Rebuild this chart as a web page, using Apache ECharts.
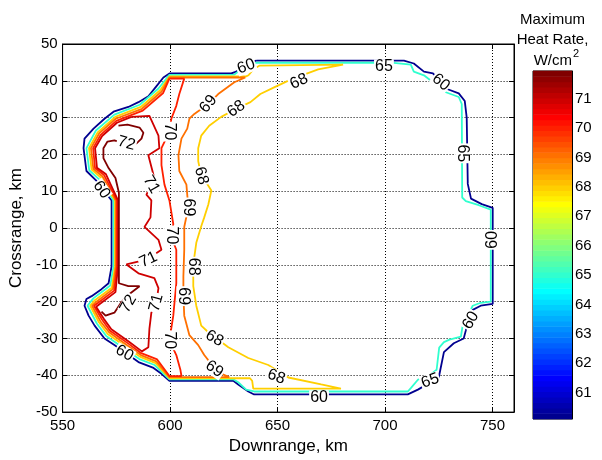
<!DOCTYPE html>
<html><head><meta charset="utf-8">
<script src="https://cdn.jsdelivr.net/npm/echarts@6/dist/echarts.min.js"></script>
<style>html,body{margin:0;padding:0;background:#fff}#c{width:602px;height:460px}</style>
</head><body><div id="c"></div>
<script>
// ---------------- data ----------------
const xTicks = [550, 600, 650, 700, 750];
const yTicks = [-50, -40, -30, -20, -10, 0, 10, 20, 30, 40, 50];
const cbTicks = [61, 62, 63, 64, 65, 66, 67, 68, 69, 70, 71];
const cbMin = 60.1, cbMax = 71.94;
const levels = [60, 65, 68, 69, 70, 71, 72];

const c60 = [[640.1,45.5],[708.8,45.5],[713.4,44.7],[718.1,42.5],[722.3,42.0],[729.2,37.7],[734.3,36.6],[737.1,34.5],[738.0,30.0],[738.5,12.0],[740.0,8.0],[745.0,6.5],[750.1,5.5],[750.1,-20.6],[744.5,-21.1],[739.9,-22.5],[737.6,-27.8],[736.6,-30.0],[732.0,-31.3],[727.4,-33.7],[725.0,-40.6],[715.3,-43.9],[710.6,-45.2],[639.1,-45.2],[636.4,-44.4],[631.7,-42.5],[629.4,-41.5],[599.7,-41.5],[596.0,-39.6],[592.3,-38.0],[585.3,-36.4],[578.8,-33.7],[574.1,-31.8],[569.5,-30.0],[564.9,-26.5],[562.1,-23.8],[560.2,-21.1],[561.1,-19.3],[563.5,-18.5],[568.1,-16.6],[571.4,-15.0],[572.8,-10.4],[572.8,7.5],[565.8,12.8],[561.1,15.5],[559.75,21.7],[560.2,24.3],[564.4,27.0],[569.5,29.7],[573.7,31.6],[580.6,32.9],[585.3,34.2],[589.9,35.8],[593.6,38.5],[596.9,40.9],[599.7,42.0],[628.5,42.0],[630.8,42.5],[635.0,44.5],[640.1,45.5]];

const c65 = [[640.1,44.9],[704.1,44.9],[712.0,44.4],[713.4,42.5],[718.1,41.5],[728.3,36.9],[734.3,35.6],[735.7,33.7],[735.9,8.3],[737.6,7.3],[743.6,6.2],[749.2,5.0],[749.2,-20.0],[744.5,-20.3],[740.8,-21.1],[736.1,-26.5],[735.3,-29.5],[730.0,-30.3],[727.4,-31.0],[725.2,-32.5],[724.0,-38.5],[719.9,-40.4],[715.3,-41.2],[712.0,-43.5],[710.6,-44.4],[639.1,-44.4],[635.4,-43.9],[631.7,-41.9],[629.4,-41.1],[599.7,-41.1],[592.8,-37.2],[585.7,-35.6],[579.3,-33.0],[570.3,-29.3],[566.0,-26.0],[561.6,-21.1],[564.3,-19.1],[572.2,-15.6],[573.7,-10.4],[573.7,7.5],[566.9,13.3],[562.4,15.7],[561.1,21.7],[565.5,26.5],[574.1,30.8],[585.9,33.5],[594.6,37.9],[599.7,41.6],[629.9,41.7],[633.1,43.1],[636.8,44.7],[640.1,44.9]];

const c68 = [[680.5,44.4],[641.5,44.1],[638.7,43.1],[636.5,41.5],[635.4,41.2],[599.7,41.2],[595.5,37.5],[586.4,32.9],[574.5,30.2],[566.3,26.0],[562.3,21.7],[563.5,15.9],[567.8,13.7],[574.4,7.5],[574.4,-10.4],[572.9,-16.2],[565.0,-19.6],[562.8,-21.1],[566.9,-25.6],[571.0,-28.8],[579.8,-32.4],[586.1,-35.0],[593.3,-36.7],[599.7,-40.8],[637.2,-40.8],[638.2,-41.5],[638.7,-43.6],[679.5,-43.6],[670.3,-42.5],[655.0,-40.6],[645.7,-37.2],[636.4,-35.3],[627.1,-32.4],[617.8,-28.3],[614.5,-26.5],[612.2,-21.1],[610.8,-15.8],[610.8,-9.9],[612.2,-4.0],[614.5,0.5],[615.9,2.9],[617.8,6.4],[619.2,10.2],[617.8,11.5],[614.5,14.2],[613.1,18.2],[613.1,21.7],[614.5,25.1],[618.2,27.8],[623.8,30.2],[630.8,32.4],[637.4,34.2],[642.0,36.4],[648.4,38.2],[656.3,40.4],[668.9,43.1],[680.5,44.4]];

const c69 = [[599.7,40.9],[596.1,37.1],[586.9,32.4],[574.7,29.7],[567.0,25.7],[563.2,21.7],[564.3,16.1],[568.6,14.0],[574.8,7.5],[574.8,-10.4],[573.4,-16.6],[565.6,-20.1],[563.7,-21.1],[567.6,-25.3],[571.6,-28.3],[580.2,-31.9],[586.4,-34.5],[593.6,-36.2],[599.7,-40.5],[627.5,-40.5],[624.8,-39.8],[620.6,-38.0],[615.9,-34.5],[613.1,-31.8],[609.0,-29.1],[606.6,-23.8],[606.2,-18.5],[606.2,-13.1],[606.6,-5.9],[606.6,0.3],[608.5,5.6],[607.6,11.8],[604.3,15.5],[603.9,19.8],[605.3,24.3],[608.0,27.0],[609.0,29.7],[611.3,31.0],[617.8,33.7],[622.4,36.4],[629.9,39.6],[635.0,40.9],[599.7,40.9]];

const c70 = [[599.7,40.6],[596.8,36.7],[587.3,31.9],[575.0,29.1],[567.7,25.3],[564.2,21.7],[565.1,16.3],[569.3,14.4],[575.3,7.5],[575.3,-10.4],[574.0,-17.0],[566.1,-20.5],[564.6,-21.1],[568.4,-24.9],[572.1,-27.9],[580.6,-31.4],[586.6,-34.0],[594.0,-35.7],[599.7,-40.2],[605.3,-40.2],[604.8,-38.5],[602.9,-34.5],[599.7,-30.5],[601.5,-23.8],[602.9,-15.0],[602.9,-5.9],[600.6,-2.4],[601.5,1.1],[599.7,7.5],[597.4,11.8],[596.0,17.1],[596.0,21.7],[599.7,26.2],[600.6,29.7],[602.9,33.2],[604.3,36.4],[606.6,40.6],[599.7,40.6]];

const c71 = [[582.0,30.2],[575.3,28.6],[568.4,25.0],[565.1,21.7],[566.0,16.4],[570.1,14.7],[575.8,7.5],[575.8,-10.4],[574.6,-17.4],[566.7,-20.9],[565.6,-21.4],[569.1,-24.6],[572.7,-27.5],[580.9,-30.9],[586.9,-33.5],[589.9,-32.4],[590.4,-27.3],[591.3,-23.0],[593.6,-20.3],[594.6,-16.3],[592.7,-13.6],[585.3,-12.3],[579.7,-9.9],[589.0,-8.6],[596.0,-5.9],[594.6,-3.2],[588.1,0.3],[590.9,2.9],[591.3,7.5],[589.0,9.1],[591.3,11.8],[592.3,14.4],[589.9,19.8],[595.0,21.7],[594.6,25.1],[590.4,30.5],[582.0,30.2]];

const c72 = [[576.0,27.8],[580.2,28.1],[585.8,27.3],[587.6,25.9],[586.7,24.3],[584.4,23.0],[579.7,22.7],[574.1,23.8],[570.9,23.5],[569.0,21.7],[569.0,19.0],[571.4,16.3],[574.6,13.6],[576.2,9.6],[576.2,-15.0],[580.6,-15.8],[585.8,-15.8],[581.1,-17.9],[577.4,-20.1],[574.1,-23.0],[570.0,-23.8],[568.1,-22.7]];

const contourLines = [c60, c65, c68, c69, c70, c71, c72];

// contour labels: [x, y, text]
const labels = [
  [635.4,43.9,'60'],[699.5,43.9,'65'],[726.0,39.6,'60'],[735.9,20.3,'65'],
  [750.1,-3.2,'60'],[739.9,-25.1,'60'],[721.0,-41.5,'65'],[669.3,-46.0,'60'],
  [649.4,-40.4,'68'],[620.6,-38.3,'69'],[620.6,-30.0,'68'],[578.8,-34.0,'60'],
  [599.7,-30.5,'70'],[606.2,-18.5,'69'],[610.8,-10.5,'68'],[600.6,-2.0,'70'],
  [589.9,-8.6,'71'],[580.6,-20.6,'72'],[593.6,-20.3,'71'],[608.5,5.6,'69'],
  [614.5,14.2,'68'],[591.3,11.8,'71'],[599.7,26.2,'70'],[579.7,23.0,'72'],
  [617.8,33.7,'69'],[630.8,32.4,'68'],[660.0,39.8,'68'],[568.1,10.4,'60']
];
const labelAngles = [20,0,-40,-90, 90,60,20,0, -20,-35,-30,-30, -90,-90,-90,-90, 25,60,75,-90, -75,-60,-90,-15, 50,35,25,-55];

// ---------------- styling / build ----------------
const FONT = '"Liberation Sans", Arial, Helvetica, sans-serif';
function jetRow(k){
  let r,g,b;
  if(k<=8){r=0;g=0;b=(k+8)/16;}
  else if(k<=24){r=0;g=(k-8)/16;b=1;}
  else if(k<=40){r=(k-24)/16;g=1;b=1-(k-24)/16;}
  else if(k<=56){r=1;g=1-(k-40)/16;b=0;}
  else {r=1-(k-56)/16;g=0;b=0;}
  return 'rgb('+Math.round(r*255)+','+Math.round(g*255)+','+Math.round(b*255)+')';
}
function levelColor(v){
  let k = Math.floor((v-cbMin)/(cbMax-cbMin)*64)+1;
  k = Math.max(1, Math.min(64, k));
  return jetRow(k);
}
const bands = [];
for(let k=1;k<=64;k++){
  const h=(cbMax-cbMin)/64;
  bands.push({value:[cbMin+(k-1)*h, cbMin+k*h], itemStyle:{color:jetRow(k)}});
}

const series = [];
contourLines.forEach((d,i)=>{
  series.push({
    type:'line', xAxisIndex:0, yAxisIndex:0, data:d, showSymbol:false, symbol:'none',
    lineStyle:{color:levelColor(levels[i]), width:1.8}, silent:true, z:3, clip:true
  });
});
series.push({
  type:'custom', xAxisIndex:0, yAxisIndex:0, z:6, silent:true,
  data: labels.map((l,i)=>({name:l[2], value:[l[0],l[1],labelAngles[i]]})),
  renderItem:(params, api)=>{
    const p = api.coord([api.value(0), api.value(1)]);
    const txt = labels[params.dataIndex][2];
    return {type:'text', x:p[0], y:p[1], rotation:api.value(2)*Math.PI/180,
      style:{text:txt, font:'16px '+FONT, fill:'#000', align:'center', verticalAlign:'middle',
        backgroundColor:'#fff', padding:[0,1], lineHeight:14}};
  }
});
series.push({
  type:'custom', xAxisIndex:2, yAxisIndex:2, data:bands, silent:true,
  renderItem:(params, api)=>{
    const p1 = api.coord([0, api.value(1)]);
    const p2 = api.coord([1, api.value(0)]);
    return {type:'rect', shape:{x:p1[0], y:p1[1]-0.3, width:p2[0]-p1[0], height:p2[1]-p1[1]+0.6},
      style:{fill:api.visual('color')}};
  }
});

const axisBase = {
  axisLine:{show:true, onZero:false, lineStyle:{color:'#000', width:1}},
  axisTick:{show:true, inside:true, length:5, lineStyle:{color:'#000'}},
};
const option = {
  animation:false,
  backgroundColor:'#fff',
  grid:[
    {left:61, top:44, width:453, height:374, show:true, borderColor:'#000', borderWidth:1, backgroundColor:'#fff'},
    {left:533, top:71, width:39, height:348, show:true, borderColor:'#000', borderWidth:1}
  ],
  xAxis:[
    Object.assign({type:'value', gridIndex:0, min:550, max:760, interval:50, position:'bottom',
      name:'Downrange, km', nameLocation:'middle', nameGap:21,
      nameTextStyle:{fontSize:17, fontFamily:FONT, color:'#000'},
      axisLabel:{fontSize:15, fontFamily:FONT, color:'#000', margin:6, customValues:xTicks},
      splitLine:{show:true, lineStyle:{color:'#000', type:[1,2], width:1}}}, axisBase),
    Object.assign({type:'value', gridIndex:0, min:550, max:760, interval:50, position:'top',
      axisLabel:{show:false}, splitLine:{show:false}}, axisBase),
    {type:'value', gridIndex:1, min:0, max:1, show:false}
  ],
  yAxis:[
    Object.assign({type:'value', gridIndex:0, min:-50, max:50, interval:10, position:'left',
      name:'Crossrange, km', nameLocation:'middle', nameGap:31,
      nameTextStyle:{fontSize:17, fontFamily:FONT, color:'#000'},
      axisLabel:{fontSize:15, fontFamily:FONT, color:'#000', margin:5, customValues:yTicks},
      splitLine:{show:true, lineStyle:{color:'#000', type:[1,2], width:1}}}, axisBase),
    Object.assign({type:'value', gridIndex:0, min:-50, max:50, interval:10, position:'right',
      axisLabel:{show:false}, splitLine:{show:false}}, axisBase),
    {type:'value', gridIndex:1, min:cbMin, max:cbMax, position:'right',
      axisLine:{show:true, onZero:false, lineStyle:{color:'#000'}},
      axisTick:{show:true, inside:true, length:4, customValues:cbTicks, lineStyle:{color:'#000'}},
      axisLabel:{show:true, customValues:cbTicks, fontSize:15, fontFamily:FONT, color:'#000', margin:3},
      splitLine:{show:false}}
  ],
  graphic:[
    {type:'text', x:552.5, y:20, style:{text:'Maximum', font:'15px '+FONT, fill:'#000', textAlign:'center', textVerticalAlign:'middle'}},
    {type:'text', x:552.5, y:40, style:{text:'Heat Rate,', font:'15px '+FONT, fill:'#000', textAlign:'center', textVerticalAlign:'middle'}},
    {type:'text', x:572, y:61, style:{text:'W/cm', font:'15px '+FONT, fill:'#000', textAlign:'right', textVerticalAlign:'middle'}},
    {type:'text', x:573, y:54, style:{text:'2', font:'11px '+FONT, fill:'#000', textAlign:'left', textVerticalAlign:'middle'}}
  ],
  series:series
};
const chart = echarts.init(document.getElementById('c'));
chart.setOption(option);
</script>
</body></html>
